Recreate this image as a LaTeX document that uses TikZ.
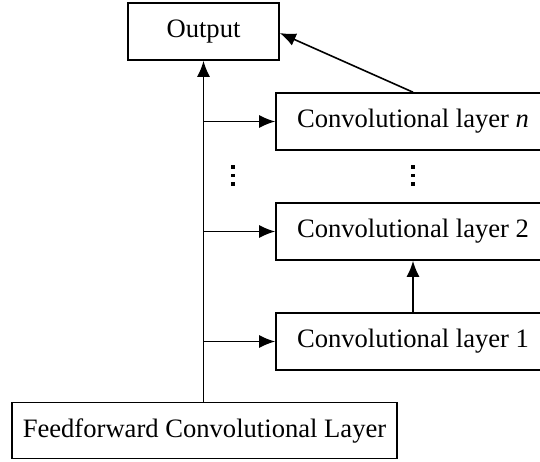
\documentclass[tikz,border=0pt]{standalone}
\usepackage{fontspec}
\setmainfont{Liberation Serif}
\usetikzlibrary{arrows.meta}
\begin{document}
\begin{tikzpicture}[x=0.5pt,y=-0.5pt,
  box/.style={draw,line width=0.8pt,inner sep=0pt,font=\fontsize{13.3}{16}\selectfont},
  arr/.style={line width=0.8pt,-{Latex[length=8pt,width=6.5pt]}}]
\useasboundingbox (0,0) rectangle (540,461);
\node[box,minimum width=151*0.5pt,minimum height=57*0.5pt] (out) at (203.5,31.5) {Output};
\node[box,minimum width=274*0.5pt,minimum height=57*0.5pt] (cn) at (413,121.5) {Convolutional layer \textit{n}};
\node[box,minimum width=274*0.5pt,minimum height=57*0.5pt] (c2) at (413,231.5) {Convolutional layer 2};
\node[box,minimum width=274*0.5pt,minimum height=57*0.5pt] (c1) at (413,341.5) {Convolutional layer 1};
\node[box,minimum width=385*0.5pt,minimum height=56*0.5pt] (ff) at (204.5,430.5) {Feedforward Convolutional Layer};
\coordinate (jn) at (204,121.5);
\coordinate (j2) at (204,231.5);
\coordinate (j1) at (204,341.5);
\draw[arr] (ff.north -| out.south) -- (out.south);
\draw[arr] (jn) -- (cn.west);
\draw[arr] (j2) -- (c2.west);
\draw[arr] (j1) -- (c1.west);
\draw[arr] (c1.north) -- (c2.south);
\draw[arr] (cn.north) -- (out.east |- 0,33);
\foreach \x in {233,413}{
  \foreach \y in {167,175.5,184}{
    \fill (\x-1.6,\y-1.6) rectangle (\x+1.6,\y+1.6);
  }
}
\end{tikzpicture}
\end{document}
